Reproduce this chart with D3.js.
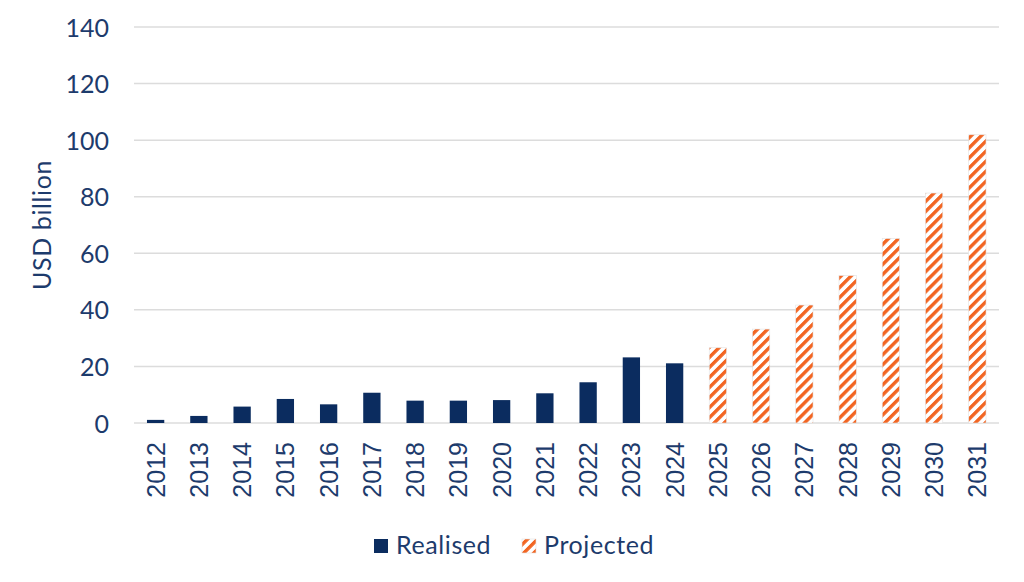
<!DOCTYPE html>
<html>
<head>
<meta charset="utf-8">
<script src="https://cdn.jsdelivr.net/npm/d3@7"></script>
<style>
  body { margin: 0; background: #fff; }
  svg { display: block; }
</style>
</head>
<body>
<div id="chart"></div>
<script>
// data
var years = ["2012", "2013", "2014", "2015", "2016", "2017", "2018", "2019", "2020", "2021",
             "2022", "2023", "2024", "2025", "2026", "2027", "2028", "2029", "2030", "2031"];
var realised = [1.1, 2.5, 5.8, 8.5, 6.6, 10.7, 7.9, 7.9, 8.1, 10.5, 14.4, 23.2, 21.1,
                null, null, null, null, null, null, null];
var projected = [null, null, null, null, null, null, null, null, null, null, null, null, null,
                 26.6, 33.2, 41.7, 52.1, 65.2, 81.3, 101.9];
var yTicks = [0, 20, 40, 60, 80, 100, 120, 140];
var legendItems = ["Realised", "Projected"];

(function(d3) {

    var width = 1024, height = 582;
    var margin = { left: 134, right: 25, top: 27, bottom: 159 };
    var navy = "#0b2c5f", orange = "#f26522", textCol = "#1d3b6c";
    var sans = "Lato, 'Open Sans', sans-serif";

    var svg = d3.select("#chart").append("svg")
        .attr("width", width)
        .attr("height", height);

    // hatch pattern for projected bars
    var defs = svg.append("defs");
    var pat = defs.append("pattern")
        .attr("id", "hatch")
        .attr("patternUnits", "userSpaceOnUse")
        .attr("width", 7.1)
        .attr("height", 7.1)
        .attr("patternTransform", "rotate(45)");
    pat.append("rect").attr("width", 7.1).attr("height", 7.1).attr("fill", "#fff");
    pat.append("rect").attr("x", 0).attr("width", 3.4).attr("height", 7.1).attr("fill", orange);

    var x = d3.scaleBand()
        .domain(years)
        .range([margin.left, width - margin.right])
        .paddingInner(0.6)
        .paddingOuter(0.3);

    var y = d3.scaleLinear()
        .domain([0, 140])
        .range([height - margin.bottom, margin.top]);

    // gridlines
    svg.append("g").attr("class", "grid")
        .selectAll("line")
        .data(yTicks)
        .enter()
        .append("line")
        .attr("x1", margin.left)
        .attr("x2", width - margin.right)
        .attr("y1", function(d) { return y(d); })
        .attr("y2", function(d) { return y(d); })
        .attr("stroke", "#dcdcdc")
        .attr("stroke-width", 1.5);

    // y axis labels
    var yAxis = d3.axisLeft(y).tickValues(yTicks).tickSize(0).tickPadding(0);
    var yg = svg.append("g")
        .attr("transform", "translate(" + (margin.left - 25) + ",0)")
        .call(yAxis);
    yg.select(".domain").remove();
    yg.selectAll("text")
        .attr("font-family", sans)
        .attr("font-size", 25)
        .attr("dy", "0.36em")
        .style("fill", textCol);

    // y title
    svg.append("text")
        .attr("transform", "translate(51," + 225 + ") rotate(-90)")
        .attr("text-anchor", "middle")
        .attr("font-family", sans)
        .attr("font-size", 25)
        .attr("letter-spacing", 0.6)
        .style("fill", textCol)
        .text("USD billion");

    // bars
    svg.append("g").selectAll("rect")
        .data(years.map(function(yr, i) { return { year: yr, v: realised[i] }; })
            .filter(function(d) { return d.v != null; }))
        .enter()
        .append("rect")
        .attr("x", function(d) { return x(d.year); })
        .attr("width", x.bandwidth())
        .attr("y", function(d) { return y(d.v); })
        .attr("height", function(d) { return y(0) - y(d.v); })
        .attr("fill", navy);

    svg.append("g").selectAll("rect")
        .data(years.map(function(yr, i) { return { year: yr, v: projected[i] }; })
            .filter(function(d) { return d.v != null; }))
        .enter()
        .append("rect")
        .attr("x", function(d) { return x(d.year); })
        .attr("width", x.bandwidth())
        .attr("y", function(d) { return y(d.v); })
        .attr("height", function(d) { return y(0) - y(d.v); })
        .attr("fill", "url(#hatch)")
        .attr("stroke", "#e2e2e2")
        .attr("stroke-width", 0.6);

    // x axis labels
    var xAxis = d3.axisBottom(x).tickSize(0).tickPadding(0);
    var xg = svg.append("g")
        .attr("transform", "translate(0," + y(0) + ")")
        .call(xAxis);
    xg.select(".domain").remove();
    xg.selectAll("text")
        .attr("transform", "rotate(-90)")
        .attr("x", -19)
        .attr("y", 0)
        .attr("dy", "0.36em")
        .attr("text-anchor", "end")
        .attr("font-family", "'Liberation Sans', Arial, sans-serif")
        .attr("font-size", 25)
        .style("fill", textCol);

    // legend
    var legend = svg.append("g").attr("class", "legend");
    var lx = [374, 522];
    legend.selectAll("rect")
        .data(legendItems)
        .enter()
        .append("rect")
        .attr("x", function(d, i) { return lx[i]; })
        .attr("y", 539)
        .attr("width", 14)
        .attr("height", 14)
        .attr("fill", function(d, i) { return i === 0 ? navy : "url(#hatch)"; })
        .attr("stroke", function(d, i) { return i === 0 ? "none" : "#e2e2e2"; })
        .attr("stroke-width", 0.6);
    legend.selectAll("text")
        .data(legendItems)
        .enter()
        .append("text")
        .attr("x", function(d, i) { return lx[i] + 22; })
        .attr("y", 554)
        .attr("font-family", sans)
        .attr("font-size", 25)
        .attr("letter-spacing", 0.6)
        .style("fill", textCol)
        .text(function(d) { return d; });

})(d3);
</script>
</body>
</html>
